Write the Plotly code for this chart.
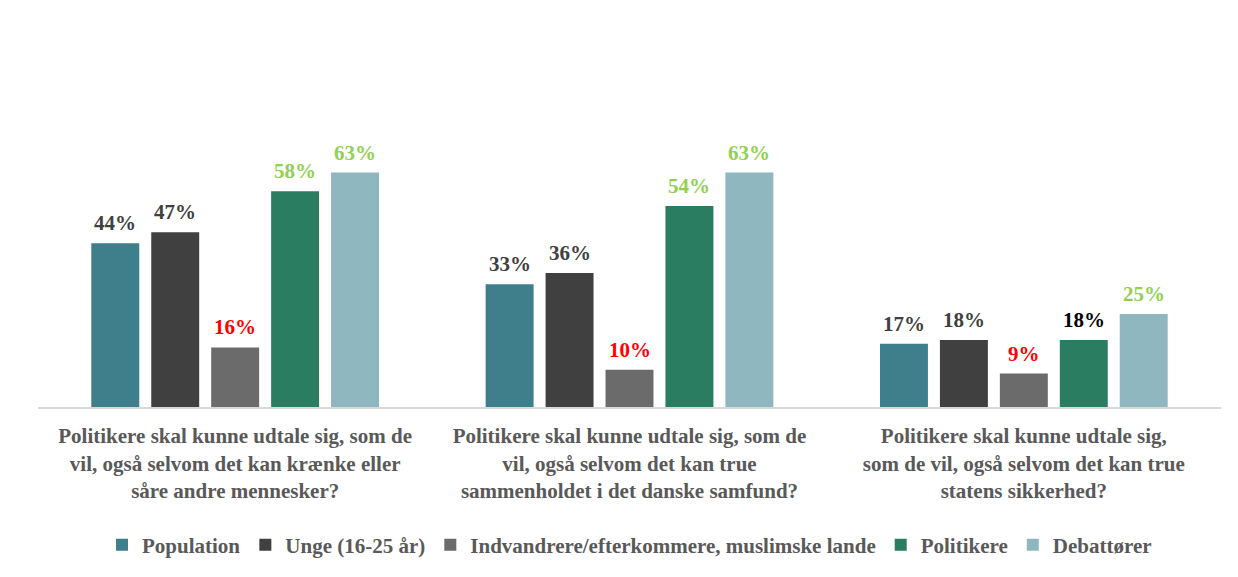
import plotly.graph_objects as go

categories = [
    "Politikere skal kunne udtale sig, som de<br>vil, også selvom det kan krænke eller<br>såre andre mennesker?",
    "Politikere skal kunne udtale sig, som de<br>vil, også selvom det kan true<br>sammenholdet i det danske samfund?",
    "Politikere skal kunne udtale sig,<br>som de vil, også selvom det kan true<br>statens sikkerhed?",
]
series_names = ["Population", "Unge (16-25 år)", "Indvandrere/efterkommere, muslimske lande", "Politikere", "Debattører"]
population = [44, 33, 17]
unge = [47, 36, 18]
indvandrere = [16, 10, 9]
politikere = [58, 54, 18]
debattoerer = [63, 63, 25]

values = [population, unge, indvandrere, politikere, debattoerer]
bar_colors = ["#3E7F8B", "#404040", "#6B6B6B", "#2B7D62", "#8FB7BF"]
label_colors = [
    ["#404040"] * 3,
    ["#404040"] * 3,
    ["#FF0000"] * 3,
    ["#92D050", "#92D050", "#000000"],
    ["#92D050"] * 3,
]

# page body adds an 8px offset; size figure so the plot lands where the reference has it
OFF = 8
W, H = 1238 - OFF, 577 - OFF
ml = 38 - OFF
mr = W - (1221 - OFF)
mt = 61 - OFF
mb = H - (411 - OFF)
BARGAP = 0.24

fig = go.Figure()
for name, vals, c in zip(series_names, values, bar_colors):
    fig.add_trace(go.Bar(
        x=categories, y=vals, name=name,
        marker=dict(color=c, line=dict(width=0)),
    ))

pw = W - ml - mr
pitch = pw / len(categories) * (1 - BARGAP) / len(series_names)
n = len(series_names)
for i, (vals, lcs) in enumerate(zip(values, label_colors)):
    for cat, v, lc in zip(categories, vals, lcs):
        fig.add_annotation(
            x=cat, y=v, xref="x", yref="y",
            text=f"{v}%", showarrow=False,
            xanchor="center", yanchor="bottom",
            xshift=(i - (n - 1) / 2) * pitch, yshift=6,
            font=dict(family="Liberation Serif", size=21, color=lc, weight="bold"),
        )

fig.update_layout(
    width=W, height=H,
    margin=dict(l=ml, r=mr, t=mt, b=mb, pad=0),
    paper_bgcolor="white", plot_bgcolor="white",
    barmode="group", bargap=BARGAP, bargroupgap=0.2,
    showlegend=True,
    legend=dict(orientation="h", x=0.5, xanchor="center", y=-0.34, yanchor="top",
                font=dict(family="Liberation Serif", size=21, color="#595959", weight="bold"),
                itemwidth=30, traceorder="normal"),
    xaxis=dict(showline=True, linecolor="#D9D9D9", linewidth=2, ticks="",
               ticklabelstandoff=9,
               tickfont=dict(family="Liberation Serif", size=21, color="#595959", weight="bold"),
               showgrid=False),
    yaxis=dict(range=[0, 93], visible=False, showgrid=False, zeroline=False),
)

fig.write_html("out.html")
